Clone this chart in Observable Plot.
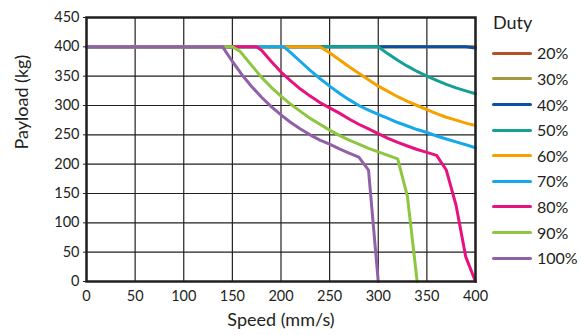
<!DOCTYPE html>
<html>
<head>
<meta charset="utf-8">
<script src="https://cdn.jsdelivr.net/npm/d3@7"></script>
<script src="https://cdn.jsdelivr.net/npm/@observablehq/plot@0.6"></script>
<style>
  html, body { margin: 0; padding: 0; background: #fff; }
  #wrap { position: relative; width: 582px; height: 335px; font-family: Lato, "Open Sans", sans-serif; color: #231f20; }
  #legend { position: absolute; left: 0; top: 0; }
  .lg-title { position: absolute; left: 493px; top: 10px; font-size: 18px; line-height: 24px; }
  .lg-row { position: absolute; left: 492px; height: 20px; display: flex; align-items: center; }
  .lg-sw { width: 40px; height: 3px; border-radius: 2px; margin-right: 5px; }
  .lg-tx { font-size: 16px; line-height: 20px; }
</style>
</head>
<body>
<div id="wrap"><div id="chart"></div><div id="legend"></div></div>
<script>
const duties = ["20%", "30%", "40%", "50%", "60%", "70%", "80%", "90%", "100%"];
const colors = ["#b4502a", "#a09a3a", "#0d4fa0", "#14a095", "#f7a100", "#16a9ea", "#e6137f", "#8dc63f", "#9161a8"];
const xTicks = [0, 50, 100, 150, 200, 250, 300, 350, 400];
const yTicks = [0, 50, 100, 150, 200, 250, 300, 350, 400, 450];

const speed20 = [0, 400];
const load20 = [400, 400];
const speed30 = [0, 400];
const load30 = [400, 400];
const speed40 = [0, 390, 400];
const load40 = [400, 400, 398];
const speed50 = [0, 300, 310, 320, 330, 340, 350, 360, 370, 380, 390, 400];
const load50 = [400, 400, 388, 377, 367, 358, 350, 343, 336, 330, 325, 320];
const speed60 = [0, 240, 250, 260, 270, 280, 290, 300, 310, 320, 330, 340, 350, 360, 370, 380, 390, 400];
const load60 = [400, 400, 390, 378, 366, 355, 344, 333, 324, 315, 307, 300, 293, 286, 280, 275, 270, 266];
const speed70 = [0, 203, 210, 220, 230, 240, 250, 260, 270, 280, 290, 300, 310, 320, 330, 340, 350, 360, 370, 380, 390, 400];
const load70 = [400, 400, 390, 375, 360, 346, 333, 321, 310, 300, 292, 285, 278, 271, 265, 259, 254, 248, 243, 238, 233, 228];
const speed80 = [0, 175, 180, 190, 200, 210, 220, 230, 240, 250, 260, 270, 280, 290, 300, 310, 320, 330, 340, 350, 360, 370, 380, 390, 400];
const load80 = [400, 400, 394, 375, 357, 342, 328, 316, 305, 296, 287, 277, 268, 260, 252, 244, 237, 231, 225, 220, 215, 190, 130, 42, 0];
const speed90 = [0, 150, 158, 170, 180, 190, 200, 210, 220, 230, 240, 250, 260, 270, 280, 290, 300, 310, 320, 330, 340];
const load90 = [400, 400, 392, 368, 348, 331, 316, 302, 290, 278, 268, 258, 249, 241, 234, 227, 221, 215, 209, 145, 0];
const speed100 = [0, 140, 150, 160, 170, 180, 190, 200, 210, 220, 230, 240, 250, 260, 270, 280, 290, 300];
const load100 = [400, 400, 375, 352, 332, 314, 298, 284, 271, 260, 250, 241, 234, 226, 219, 212, 190, 0];

const speeds = [speed20, speed30, speed40, speed50, speed60, speed70, speed80, speed90, speed100];
const loads = [load20, load30, load40, load50, load60, load70, load80, load90, load100];

const rows = [];
duties.forEach((d, i) => speeds[i].forEach((s, j) => rows.push({duty: d, speed: s, payload: loads[i][j]})));

const ink = "#231f20";
const chart = Plot.plot({
  width: 582, height: 335,
  marginLeft: 86, marginRight: 107, marginTop: 17, marginBottom: 54,
  style: {fontFamily: "Lato, 'Open Sans', sans-serif", fontSize: "14px", color: ink, background: "#fff"},
  x: {domain: [0, 400]},
  y: {domain: [0, 450]},
  color: {domain: duties, range: colors},
  marks: [
    Plot.gridX(xTicks, {stroke: ink, strokeOpacity: 1, strokeWidth: 1.2}),
    Plot.gridY(yTicks, {stroke: ink, strokeOpacity: 1, strokeWidth: 1.2}),
    Plot.line(rows, {x: "speed", y: "payload", z: "duty", stroke: "duty", strokeWidth: 3, strokeLinejoin: "round"}),
    Plot.frame({stroke: ink, strokeWidth: 2.5}),
    Plot.axisX(xTicks, {tickSize: 0, tickPadding: 9, label: null, fontSize: 14.5}),
    Plot.axisY(yTicks, {tickSize: 3, tickPadding: 4, label: null, fontSize: 14.5}),
    Plot.text(["Speed (mm/s)"], {frameAnchor: "bottom", dy: 44, fontSize: 18, fill: ink}),
    Plot.text(["Payload (kg)"], {frameAnchor: "left", dx: -64, rotate: -90, fontSize: 18, fill: ink})
  ]
});
document.getElementById("chart").appendChild(chart);

const legend = document.getElementById("legend");
const title = document.createElement("div");
title.className = "lg-title";
title.textContent = "Duty";
legend.appendChild(title);
duties.forEach((d, i) => {
  const row = document.createElement("div");
  row.className = "lg-row";
  row.style.top = (53.3 + i * 25.6 - 10) + "px";
  const sw = document.createElement("div");
  sw.className = "lg-sw";
  sw.style.background = colors[i];
  const tx = document.createElement("span");
  tx.className = "lg-tx";
  tx.textContent = d;
  row.appendChild(sw);
  row.appendChild(tx);
  legend.appendChild(row);
});
</script>
</body>
</html>
